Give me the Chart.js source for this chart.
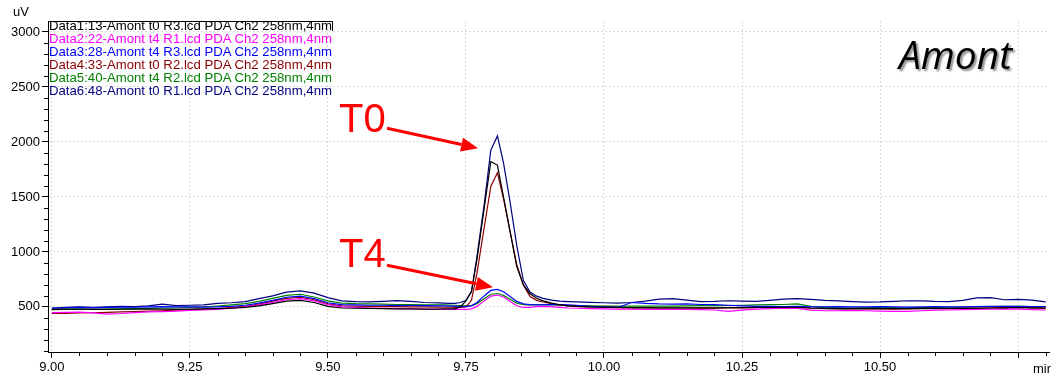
<!DOCTYPE html>
<html>
<head>
<meta charset="utf-8">
<title>Amont</title>
<script src="https://cdn.jsdelivr.net/npm/chart.js@4.4.0/dist/chart.umd.min.js"></script>
<style>
  html, body { margin: 0; padding: 0; background: #fff; }
  #wrap { position: relative; width: 1051px; height: 377px; overflow: hidden; }
  #wrap canvas { position: absolute; left: 0; top: 0; }
  .txt { position: absolute; white-space: nowrap; font-family: 'Liberation Sans', Arial, sans-serif; }
  #legend { left: 49px; top: 19px; font-size: 13.2px; line-height: 13px; }
  #unitY { left: 13px; top: 4px; font-size: 13px; }
  #unitX { left: 1033px; top: 361px; font-size: 13px; }
  .big { color: #ff0000; font-size: 40px; line-height: 40px; }
  #t0 { left: 339px; top: 98px; }
  #t4 { left: 339px; top: 233px; }
  #amont { left: 899px; top: 31px; font-family: 'Open Sans', sans-serif; font-style: italic;
           font-size: 39px; line-height: 46px; color: #000; text-shadow: 2px 2px 2px rgba(0,0,0,0.45); }
</style>
</head>
<body>
<div id="wrap">
  <canvas id="chromCanvas" width="1051" height="377"></canvas>
  <div class="txt" id="legend"></div>
  <div class="txt" id="unitY">uV</div>
  <div class="txt" id="unitX">min</div>
  <div class="txt big" id="t0">T0</div>
  <div class="txt big" id="t4">T4</div>
  <div class="txt" id="amont">Amont</div>
</div>
<script>
// retention time (min)
var times = [
  9.000, 9.025, 9.050, 9.075, 9.100, 9.125, 9.150, 9.175, 9.200, 9.225, 9.250, 9.275, 9.300, 9.325, 9.350,
  9.375, 9.400, 9.425, 9.450, 9.475, 9.500, 9.525, 9.550, 9.575, 9.600, 9.625, 9.650, 9.675, 9.700,
  9.710, 9.720, 9.730, 9.740, 9.750, 9.760, 9.770, 9.783, 9.795, 9.807, 9.818, 9.830, 9.842, 9.854, 9.866,
  9.878, 9.890, 9.905, 9.920, 9.935, 9.950,
  9.975, 10.000, 10.025, 10.050, 10.075, 10.100, 10.125, 10.150, 10.175, 10.200, 10.225, 10.250, 10.275,
  10.300, 10.325, 10.350, 10.375, 10.400, 10.425, 10.450, 10.475, 10.500, 10.525, 10.550, 10.575, 10.600,
  10.625, 10.650, 10.675, 10.700, 10.725, 10.750, 10.775, 10.800
];

// signal (uV) per run
var data1 = [
  478, 480, 480, 478, 478, 480, 480, 482, 480, 478, 480, 482, 485, 488, 495, 510, 530, 552, 560, 540, 505, 490, 488, 487, 485, 483, 482, 480, 480,
  482, 482, 483, 500, 555, 640, 935, 1395, 1820, 1790, 1500, 1183, 866, 700, 620, 579, 555, 535, 520, 510, 505,
  500, 498, 495, 494, 493, 492, 492, 492, 492, 492, 493, 494, 495, 496, 497, 497, 490, 486, 485, 485, 484, 484, 485, 485, 486, 487, 487, 487, 488, 490, 492, 495, 492, 490
];
var data2 = [
  448, 450, 452, 445, 435, 440, 448, 455, 458, 462, 468, 472, 478, 488, 500, 518, 542, 565, 575, 555, 520, 500, 495, 490, 487, 485, 482, 480, 478,
  478, 477, 477, 477, 478, 482, 505, 555, 598, 608, 590, 550, 510, 495, 495, 502, 505, 500, 495, 490, 488,
  485, 482, 480, 480, 478, 478, 478, 477, 475, 472, 460, 470, 480, 485, 488, 486, 470, 465, 465, 468, 465, 462, 460, 460, 465, 470, 472, 475, 478, 480, 482, 480, 475, 472
];
var data3 = [
  488, 492, 495, 492, 495, 498, 497, 500, 503, 500, 500, 498, 500, 505, 515, 535, 560, 588, 598, 575, 538, 520, 518, 515, 515, 512, 513, 512, 510,
  510, 508, 507, 505, 503, 510, 540, 600, 650, 660, 638, 595, 550, 528, 520, 518, 518, 520, 520, 518, 515,
  505, 500, 495, 540, 532, 527, 525, 528, 522, 520, 515, 510, 505, 505, 503, 505, 500, 500, 502, 500, 500, 502, 500, 498, 500, 502, 500, 500, 502, 505, 505, 505, 503, 502
];
var data4 = [
  440, 442, 445, 447, 450, 455, 458, 462, 465, 470, 475, 480, 485, 495, 505, 525, 552, 578, 588, 565, 528, 510, 508, 505, 503, 502, 500, 500, 498,
  497, 497, 496, 495, 500, 560, 810, 1220, 1595, 1720, 1485, 1185, 885, 700, 594, 560, 545, 530, 518, 510, 505,
  500, 497, 494, 492, 490, 490, 490, 490, 489, 489, 490, 492, 494, 495, 496, 495, 488, 484, 482, 482, 483, 482, 480, 482, 484, 485, 485, 487, 488, 490, 493, 496, 490, 486
];
var data5 = [
  475, 478, 480, 478, 480, 482, 485, 488, 490, 490, 495, 500, 508, 518, 530, 550, 578, 605, 615, 590, 555, 535, 530, 528, 525, 522, 520, 518, 518,
  518, 517, 515, 513, 510, 512, 530, 575, 615, 622, 605, 570, 535, 520, 518, 520, 520, 518, 515, 513, 512,
  510, 508, 507, 507, 508, 508, 507, 510, 512, 512, 513, 515, 518, 520, 522, 528, 505, 495, 492, 492, 494, 495, 494, 492, 493, 495, 497, 497, 500, 502, 505, 505, 502, 500
];
var data6 = [
  490, 495, 500, 497, 500, 505, 503, 510, 525, 512, 515, 518, 533, 538, 548, 575, 600, 635, 645, 625, 585, 555, 548, 545, 550, 557, 550, 540, 537,
  535, 533, 533, 540, 560, 640, 960, 1430, 1925, 2055, 1810, 1450, 1060, 740, 635, 598, 578, 562, 552, 548, 545,
  542, 538, 535, 540, 552, 570, 576, 562, 548, 550, 556, 552, 550, 560, 570, 575, 568, 560, 555, 548, 543, 545, 550, 556, 555, 550, 548, 560, 583, 585, 565, 568, 562, 545
];

var seriesNames = [
  'Data1:13-Amont t0 R3.lcd PDA Ch2 258nm,4nm',
  'Data2:22-Amont t4 R1.lcd PDA Ch2 258nm,4nm',
  'Data3:28-Amont t4 R3.lcd PDA Ch2 258nm,4nm',
  'Data4:33-Amont t0 R2.lcd PDA Ch2 258nm,4nm',
  'Data5:40-Amont t4 R2.lcd PDA Ch2 258nm,4nm',
  'Data6:48-Amont t0 R1.lcd PDA Ch2 258nm,4nm'
];
var seriesColors = ['#000000', '#ff00ff', '#0000ff', '#8b0000', '#008000', '#000080'];

var xTicks = [9.00, 9.25, 9.50, 9.75, 10.00, 10.25, 10.50, 10.75];
var yTicks = [500, 1000, 1500, 2000, 2500, 3000];

// arrows: [from time, from uV, to time, to uV]
var arrows = [
  [9.607, 2125, 9.772, 1943],
  [9.607, 879, 9.799, 679]
];

var allData = [data1, data2, data3, data4, data5, data6];

var datasets = allData.map(function (vals, i) {
  return {
    label: seriesNames[i],
    data: times.map(function (t, k) { return { x: t, y: vals[k] }; }),
    borderColor: seriesColors[i],
    borderWidth: 1.2,
    pointRadius: 0,
    fill: false,
    tension: 0
  };
});

// legend as coloured text lines
var legend = document.getElementById('legend');
seriesNames.forEach(function (name, i) {
  var d = document.createElement('div');
  d.textContent = name;
  d.style.color = seriesColors[i];
  legend.appendChild(d);
});

var extras = {
  id: 'extras',
  afterDraw: function (chart) {
    var ctx = chart.ctx;
    var xs = chart.scales.x, ys = chart.scales.y;
    var area = chart.chartArea;
    ctx.save();
    ctx.strokeStyle = '#000';
    ctx.lineWidth = 1;
    ctx.beginPath();
    // minor ticks
    for (var v = 100; v <= 3000; v += 100) {
      if (v % 500 === 0) continue;
      var py = Math.round(ys.getPixelForValue(v)) + 0.5;
      ctx.moveTo(area.left - 4, py); ctx.lineTo(area.left, py);
    }
    for (var k = 0; k <= 36; k++) {
      if (k % 5 === 0) continue;
      var px = Math.round(xs.getPixelForValue(9 + k * 0.05)) + 0.5;
      ctx.moveTo(px, area.bottom); ctx.lineTo(px, area.bottom + 4);
    }
    // legend frame top
    ctx.moveTo(area.left, area.top + 0.5); ctx.lineTo(332.5, area.top + 0.5);
    ctx.lineTo(332.5, area.top + 10);
    ctx.stroke();

    // red arrows
    ctx.strokeStyle = '#ff0000';
    ctx.fillStyle = '#ff0000';
    ctx.lineWidth = 3;
    arrows.forEach(function (a) {
      var x1 = xs.getPixelForValue(a[0]), y1 = ys.getPixelForValue(a[1]);
      var x2 = xs.getPixelForValue(a[2]), y2 = ys.getPixelForValue(a[3]);
      var ang = Math.atan2(y2 - y1, x2 - x1);
      var len = 17, half = 7;
      var bx = x2 - len * Math.cos(ang), by = y2 - len * Math.sin(ang);
      ctx.beginPath();
      ctx.moveTo(x1, y1); ctx.lineTo(bx, by);
      ctx.stroke();
      ctx.beginPath();
      ctx.moveTo(x2, y2);
      ctx.lineTo(bx + half * Math.sin(ang), by - half * Math.cos(ang));
      ctx.lineTo(bx - half * Math.sin(ang), by + half * Math.cos(ang));
      ctx.closePath();
      ctx.fill();
    });
    ctx.restore();
  }
};

var tickFont = { family: "'Liberation Sans', Arial, sans-serif", size: 13 };

var chart = new Chart(document.getElementById('chromCanvas'), {
  type: 'line',
  data: { datasets: datasets },
  options: {
    responsive: false,
    animation: false,
    events: [],
    layout: { padding: { left: 0, top: 21, right: 2, bottom: 0 } },
    plugins: { legend: { display: false }, tooltip: { enabled: false } },
    scales: {
      x: {
        type: 'linear',
        min: 8.993,
        max: 10.806,
        afterBuildTicks: function (scale) {
          scale.ticks = xTicks.map(function (v) { return { value: v }; });
        },
        afterFit: function (scale) { scale.height = 25; },
        ticks: {
          color: '#000',
          font: tickFont,
          padding: 2,
          maxRotation: 0,
          autoSkip: false,
          callback: function (v) { return v >= 10.7 ? '' : v.toFixed(2); }
        },
        grid: { color: '#dadada', tickColor: '#000', tickLength: 6 },
        border: { display: true, color: '#000', width: 1, dash: [2, 2] }
      },
      y: {
        type: 'linear',
        min: 90,
        max: 3100,
        afterBuildTicks: function (scale) {
          scale.ticks = yTicks.map(function (v) { return { value: v }; });
        },
        afterFit: function (scale) { scale.width = 48; },
        ticks: {
          color: '#000',
          font: tickFont,
          padding: 2,
          callback: function (v) { return String(v); }
        },
        grid: { color: '#dadada', tickColor: '#000', tickLength: 6 },
        border: { display: true, color: '#000', width: 1, dash: [2, 2] }
      }
    }
  },
  plugins: [extras]
});
</script>
</body>
</html>
